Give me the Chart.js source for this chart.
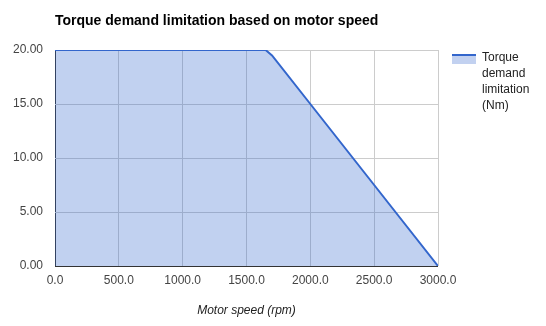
<!DOCTYPE html>
<html>
<head>
<meta charset="utf-8">
<script src="https://cdn.jsdelivr.net/npm/chart.js@4"></script>
<style>
  body { margin: 0; background: #fff; font-family: Arial, "Liberation Sans", sans-serif; }
  #wrap { position: relative; width: 546px; height: 326px; }
  #legend { position: absolute; left: 452px; top: 49px; font-size: 12px; color: #222; }
  #legend .sw { position: absolute; left: 0; top: 5px; width: 24px; height: 8px; background: #c2d1f0; border-top: 2px solid #3366cc; }
  #legend .tx { position: absolute; left: 30px; top: 0; width: 60px; line-height: 16px; }
</style>
</head>
<body>
<div id="wrap">
  <canvas id="myChart" width="546" height="326"></canvas>
  <div id="legend"><div class="sw"></div><div class="tx">Torque demand limitation (Nm)</div></div>
</div>
<script>
  // datos
  var speeds = [0, 500, 1000, 1500, 1650, 1700, 2000, 2500, 3000];
  var torque = [20, 20, 20, 20, 20, 19.5, 15, 7.5, 0];
  var titleText = 'Torque demand limitation based on motor speed';
  var xTitle = 'Motor speed (rpm)';

  var points = speeds.map(function (s, i) { return { x: s, y: torque[i] }; });

  // titulo alineado con el area del grafico
  var titlePlugin = {
    id: 'leftTitle',
    afterDraw: function (chart) {
      var ctx = chart.ctx;
      ctx.save();
      ctx.font = 'bold 14px Arial, "Liberation Sans"';
      ctx.fillStyle = '#000';
      ctx.textBaseline = 'middle';
      ctx.fillText(titleText, chart.chartArea.left, 21);
      ctx.restore();
    }
  };

  function gridColor(c) { return c.tick && c.tick.value === 0 ? '#333' : '#ccc'; }

  var ctx = document.getElementById('myChart').getContext('2d');
  var myChart = new Chart(ctx, {
    type: 'line',
    data: {
      datasets: [{
        label: 'Torque demand limitation (Nm)',
        data: points,
        borderColor: '#3366cc',
        backgroundColor: 'rgba(51,102,204,0.3)',
        borderWidth: 2,
        pointRadius: 0,
        fill: 'origin',
        tension: 0
      }]
    },
    options: {
      responsive: false,
      animation: false,
      layout: { padding: { left: 0, right: 108, top: 50, bottom: 0 } },
      plugins: { legend: { display: false }, title: { display: false }, tooltip: { enabled: false } },
      scales: {
        x: {
          type: 'linear',
          min: 0, max: 3000,
          afterFit: function (s) { s.height = 60; },
          ticks: { stepSize: 500, color: '#444', font: { family: 'Arial', size: 12 }, padding: 7,
                   callback: function (v) { return v.toFixed(1); } },
          grid: { color: gridColor, drawTicks: false },
          border: { display: false },
          title: { display: true, text: xTitle, color: '#222',
                   font: { family: 'Arial', size: 12, style: 'italic' }, padding: { top: 0, bottom: 8 } }
        },
        y: {
          min: 0, max: 20,
          afterFit: function (s) { s.width = 55; },
          ticks: { stepSize: 5, color: '#444', font: { family: 'Arial', size: 12 }, padding: 12,
                   callback: function (v) { return v.toFixed(2); } },
          grid: { color: gridColor, drawTicks: false },
          border: { display: false }
        }
      }
    },
    plugins: [titlePlugin]
  });
</script>
</body>
</html>
